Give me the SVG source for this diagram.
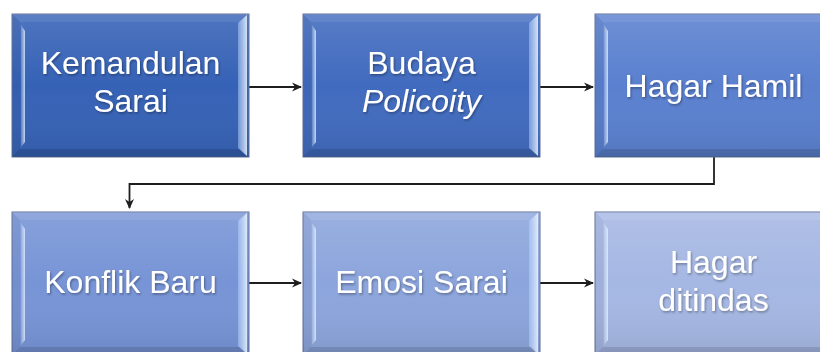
<svg xmlns="http://www.w3.org/2000/svg" xmlns:xlink="http://www.w3.org/1999/xlink" width="820" height="352" viewBox="0 0 820 352">
<style>
  .lbl { font-family: "Liberation Sans", Arial, sans-serif; font-size: 32px; fill: #ffffff; text-anchor: middle; filter: url(#tshadow); }
  .it { font-style: italic; }
  .box { stroke: #5d6f98; stroke-width: 1; }
  .conn { fill: none; stroke: #1e1e1e; stroke-width: 1.8; marker-end: url(#arr); }
</style>
<defs>
  <marker id="arr" viewBox="0 0 10 10" refX="9" refY="5" markerWidth="10" markerHeight="10" markerUnits="userSpaceOnUse" orient="auto">
    <path d="M0,0.5 L10,5 L0,9.5 L3,5 Z" fill="#1e1e1e"/>
  </marker>
  <filter id="tshadow" x="-10%" y="-20%" width="120%" height="150%">
    <feDropShadow dx="1" dy="1.5" stdDeviation="1" flood-color="#000000" flood-opacity="0.35"/>
  </filter>
  <linearGradient id="shade" x1="0" y1="0" x2="0" y2="1">
    <stop offset="0" stop-color="#ffffff" stop-opacity="0.12"/>
    <stop offset="0.5" stop-color="#ffffff" stop-opacity="0"/>
    <stop offset="1" stop-color="#000000" stop-opacity="0.08"/>
  </linearGradient>
  <linearGradient id="lgl" x1="0" y1="0" x2="1" y2="0">
    <stop offset="0" stop-color="#dcecff" stop-opacity="0.2"/>
    <stop offset="1" stop-color="#e8f3ff" stop-opacity="0.8"/>
  </linearGradient>
  <linearGradient id="lgr" x1="0" y1="0" x2="1" y2="0">
    <stop offset="0" stop-color="#b8d4ff" stop-opacity="0.45"/>
    <stop offset="1" stop-color="#eef6ff" stop-opacity="0.85"/>
  </linearGradient>
  <g id="bevel">
    <rect x="0" y="0" width="237" height="143" fill="url(#shade)"/>
    <polygon points="0,0 237,0 229,8 8,8" fill="#ffffff" fill-opacity="0.08"/>
    <polygon points="0,143 237,143 229,135 8,135" fill="#000000" fill-opacity="0.12"/>
    <polygon points="0,0 8,8 8,135 0,143" fill="#000000" fill-opacity="0.04"/>
    <polygon points="9,11 13,17 13,128 9,133" fill="url(#lgl)"/>
    <polygon points="226,9 235,1 235,142 226,134" fill="url(#lgr)"/>
  </g>
</defs>

<g id="connectors">
  <line class="conn" x1="249" y1="87" x2="301" y2="87"/>
  <line class="conn" x1="540" y1="87" x2="593" y2="87"/>
  <polyline class="conn" points="714,157 714,184 129.5,184 129.5,208"/>
  <line class="conn" x1="249" y1="283" x2="301" y2="283"/>
  <line class="conn" x1="540" y1="283" x2="593" y2="283"/>
</g>

<g id="node-kemandulan">
  <rect class="box" x="12" y="14" width="237" height="143" fill="#3662b6"/>
  <use xlink:href="#bevel" href="#bevel" x="12" y="14"/>
  <text class="lbl" x="130.5" y="74">Kemandulan</text>
  <text class="lbl" x="130.5" y="111.5">Sarai</text>
</g>

<g id="node-budaya">
  <rect class="box" x="303" y="14" width="237" height="143" fill="#416bbf"/>
  <use xlink:href="#bevel" href="#bevel" x="303" y="14"/>
  <text class="lbl" x="421.5" y="74">Budaya</text>
  <text class="lbl it" x="421.5" y="111.5">Policoity</text>
</g>

<g id="node-hagar-hamil">
  <rect class="box" x="595" y="14" width="237" height="143" fill="#5a80cf"/>
  <use xlink:href="#bevel" href="#bevel" x="595" y="14"/>
  <text class="lbl" x="713.5" y="97">Hagar Hamil</text>
</g>

<g id="node-konflik">
  <rect class="box" x="12" y="212" width="237" height="143" fill="#7794d6"/>
  <use xlink:href="#bevel" href="#bevel" x="12" y="212"/>
  <text class="lbl" x="130.5" y="293">Konflik Baru</text>
</g>

<g id="node-emosi">
  <rect class="box" x="303" y="212" width="237" height="143" fill="#8ca5dc"/>
  <use xlink:href="#bevel" href="#bevel" x="303" y="212"/>
  <text class="lbl" x="421.5" y="293">Emosi Sarai</text>
</g>

<g id="node-hagar-ditindas">
  <rect class="box" x="595" y="212" width="237" height="143" fill="#a5b7e3"/>
  <use xlink:href="#bevel" href="#bevel" x="595" y="212"/>
  <text class="lbl" x="713.5" y="273">Hagar</text>
  <text class="lbl" x="713.5" y="310.5">ditindas</text>
</g>
</svg>
